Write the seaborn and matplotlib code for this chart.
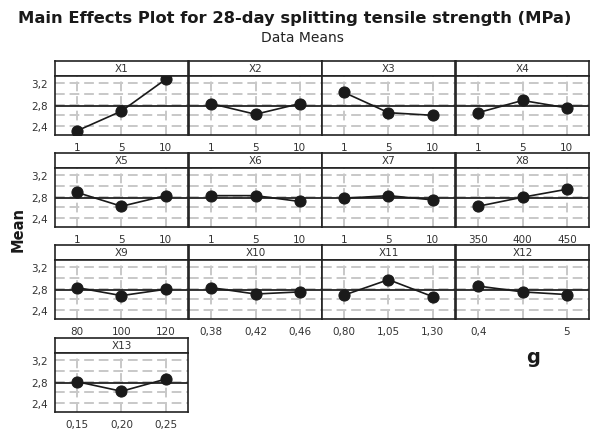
import matplotlib
matplotlib.use("Agg")
import matplotlib.pyplot as plt
import seaborn as sns

# factor names, level labels and mean responses
factors = ["X1", "X2", "X3", "X4", "X5", "X6", "X7", "X8", "X9", "X10", "X11", "X12", "X13"]
level_labels = [
    ["1", "5", "10"], ["1", "5", "10"], ["1", "5", "10"], ["1", "5", "10"],
    ["1", "5", "10"], ["1", "5", "10"], ["1", "5", "10"], ["350", "400", "450"],
    ["80", "100", "120"], ["0,38", "0,42", "0,46"], ["0,80", "1,05", "1,30"],
    ["0,4", "", "5"], ["0,15", "0,20", "0,25"],
]
means = [
    [2.31, 2.68, 3.28], [2.82, 2.62, 2.82], [3.03, 2.65, 2.60], [2.65, 2.88, 2.74],
    [2.88, 2.62, 2.82], [2.82, 2.82, 2.71], [2.77, 2.82, 2.74], [2.62, 2.79, 2.94],
    [2.82, 2.67, 2.79], [2.82, 2.70, 2.74], [2.68, 2.97, 2.65], [2.85, 2.74, 2.69],
    [2.80, 2.62, 2.85],
]
grand_mean = 2.77

sns.set_style("white")
plt.rcParams["font.family"] = ["DejaVu Sans"]

W, H = 590, 435
fig = plt.figure(figsize=(W / 100, H / 100), dpi=100)

col_left = [55, 189, 322, 456]
panel_w = 133
row_top = [62, 154, 246, 339]
strip_h = 15
plot_h = 59
grid_kw = dict(color="#c8c8c8", ls=(0, (5, 2.5)), lw=1.4, zorder=0.5)

def px(x, y, w, h):
    return [x / W, 1 - (y + h) / H, w / W, h / H]

for i, name in enumerate(factors):
    r, c = divmod(i, 4)
    x0, y0 = col_left[c], row_top[r]

    # strip with factor name
    sax = fig.add_axes(px(x0, y0, panel_w, strip_h))
    sax.set_xticks([]); sax.set_yticks([])
    for s in sax.spines.values():
        s.set_linewidth(1.2); s.set_color("#222222")
    sax.text(0.5, 0.5, name, ha="center", va="center", fontsize=7.5, color="#333333")

    ax = fig.add_axes(px(x0, y0 + strip_h, panel_w, plot_h))
    pos = [0, 1, 2]
    # dashed reference grid
    for p in pos:
        ax.axvline(p, **grid_kw)
    for g in [2.4, 2.6, 2.8, 3.0, 3.2]:
        ax.axhline(g, **grid_kw)
    ax.axhline(grand_mean, color="#111111", lw=1.2, zorder=2)
    sns.lineplot(x=pos, y=means[i], ax=ax, color="#1a1a1a", lw=1.2,
                 marker="o", markersize=8, markeredgecolor="#1a1a1a", zorder=3)
    ax.set_xlim(-0.5, 2.5)
    ax.set_ylim(2.23, 3.34)
    ax.set_xticks(pos)
    ax.set_yticks([2.4, 2.8, 3.2])
    ax.set_xticklabels(level_labels[i], fontsize=7.5, color="#333333")
    ax.tick_params(axis="x", length=3, width=0.8, pad=2, color="#333333")
    if c == 0:
        ax.set_yticklabels(["2,4", "2,8", "3,2"], fontsize=7.5, color="#333333")
        ax.tick_params(axis="y", length=3, width=0.8, pad=2, color="#333333")
    else:
        ax.set_yticklabels([])
        ax.tick_params(axis="y", length=0)
    ax.set_xlabel(""); ax.set_ylabel("")
    for s in ax.spines.values():
        s.set_linewidth(1.2); s.set_color("#222222")

fig.text(0.5, 1 - 18 / H, "Main Effects Plot for 28-day splitting tensile strength (MPa)",
         ha="center", va="center", fontsize=11.8, fontweight="bold", color="#1a1a1a")
fig.text(302 / W, 1 - 38 / H, "Data Means", ha="center", va="center", fontsize=10, color="#222222")
fig.text(18 / W, 1 - 230 / H, "Mean", ha="center", va="center", rotation=90,
         fontsize=10.5, fontweight="bold", color="#1a1a1a")
fig.text(533 / W, 1 - 358 / H, "g", ha="center", va="center",
         fontsize=14, fontweight="bold", color="#1a1a1a")

fig.savefig("out.png", dpi=100)
